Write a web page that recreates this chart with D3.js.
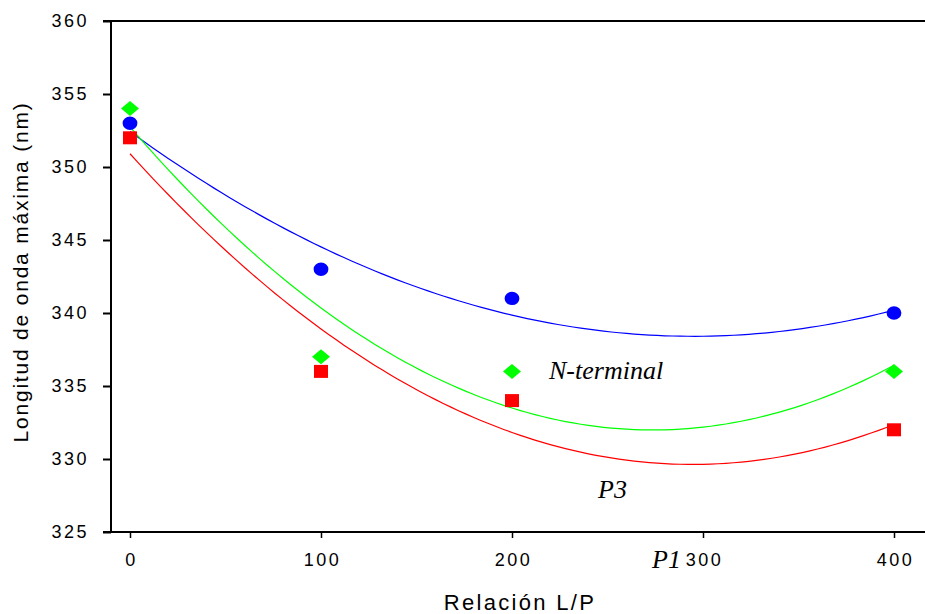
<!DOCTYPE html>
<html>
<head>
<meta charset="utf-8">
<script src="https://cdn.jsdelivr.net/npm/d3@7"></script>
<style>
	body{ margin: 0; background: #fff; }
	svg{ display: block; }
	.tick text{ font-family: Arial, "Liberation Sans", sans-serif; font-size: 18px; letter-spacing: 2.5px; fill: #000; }
	.lbl{ font-family: "Liberation Serif", "Times New Roman", serif; font-style: italic; font-size: 26px; fill: #000; }
</style>
</head>
<body>
<div id="chart"></div>
<script>
// relación L/P
var ratios = [0, 100, 200, 400];
// longitud de onda máxima (nm)
var p1Values = [353, 343, 341, 340];
var nTermValues = [354, 337, 336, 336];
var p3Values = [352, 336, 334, 332];
var xTicks = [0, 100, 200, 300, 400];
var yTicks = [325, 330, 335, 340, 345, 350, 355, 360];

;(function(d3){
	var width = 925,
		height = 614;
	var svg = d3.select("#chart").append("svg")
		.attr("width", width)
		.attr("height", height);

	var x = d3.scaleLinear().domain([0, 400]).range([130, 894]),
		y = d3.scaleLinear().domain([325, 360]).range([532, 21]);

	/*** quadratic least squares (same as the regression curves) ***/
	function polyFit(xs, ys){
		var s = [0, 0, 0, 0, 0], t = [0, 0, 0];
		for(var i = 0; i < xs.length; i++){
			var u = xs[i] / 100;
			for(var k = 0; k < 5; k++) s[k] += Math.pow(u, k);
			for(var k = 0; k < 3; k++) t[k] += Math.pow(u, k) * ys[i];
		}
		var m = [
			[s[0], s[1], s[2], t[0]],
			[s[1], s[2], s[3], t[1]],
			[s[2], s[3], s[4], t[2]]
		];
		//gauss
		for(var c = 0; c < 3; c++){
			for(var r = c + 1; r < 3; r++){
				var f = m[r][c] / m[c][c];
				for(var j = c; j < 4; j++) m[r][j] -= f * m[c][j];
			}
		}
		var cf = [0, 0, 0];
		for(var r = 2; r >= 0; r--){
			var v = m[r][3];
			for(var j = r + 1; j < 3; j++) v -= m[r][j] * cf[j];
			cf[r] = v / m[r][r];
		}
		return function(xv){
			var u = xv / 100;
			return cf[0] + cf[1] * u + cf[2] * u * u;
		};
	}

	var series = [
		{key: "p1", values: p1Values, color: "#0000ff", shape: "circle"},
		{key: "nterm", values: nTermValues, color: "#00ff00", shape: "diamond"},
		{key: "p3", values: p3Values, color: "#ff0000", shape: "square"}
	];

	/*** axes ***/
	var yAxis = svg.append("g")
		.attr("transform", "translate(111,0)")
		.call(d3.axisLeft(y).tickValues(yTicks).tickSize(8).tickPadding(14).tickFormat(d3.format("d")));
	yAxis.select(".domain").remove();
	yAxis.selectAll(".tick line").attr("stroke", "#000").attr("stroke-width", 2);

	var xAxis = svg.append("g")
		.attr("transform", "translate(0,532)")
		.call(d3.axisBottom(x).tickValues(xTicks).tickSize(6).tickPadding(15).tickFormat(d3.format("d")));
	xAxis.select(".domain").remove();
	xAxis.selectAll(".tick line").attr("stroke", "#000").attr("stroke-width", 1.5);
	xAxis.selectAll(".tick text").attr("dx", 1);

	//frame
	var frame = svg.append("g").attr("stroke", "#000").attr("stroke-width", 2);
	frame.append("line").attr("x1", 111).attr("x2", 111).attr("y1", y(360)).attr("y2", y(325));
	frame.append("line").attr("x1", 103).attr("x2", width).attr("y1", y(360)).attr("y2", y(360));
	frame.append("line").attr("x1", 103).attr("x2", width).attr("y1", y(325)).attr("y2", y(325));

	/*** curves ***/
	var line = d3.line()
		.x(function(d){ return x(d[0]); })
		.y(function(d){ return y(d[1]); });
	series.forEach(function(s){
		var fit = polyFit(ratios, s.values);
		var pts = d3.range(0, 401, 4).map(function(v){ return [v, fit(v)]; });
		svg.append("path")
			.attr("d", line(pts))
			.attr("fill", "none")
			.attr("stroke", s.color)
			.attr("stroke-width", 1.2);
	});

	/*** markers ***/
	var shapes = {
		circle: "M-7.4,0A7.4,6.7 0 1,0 7.4,0A7.4,6.7 0 1,0 -7.4,0Z",
		diamond: "M-9,0L0,-7.5L9,0L0,7.5Z",
		square: "M-7,-6.5H7V6.5H-7Z"
	};
	series.forEach(function(s){
		svg.append("g").selectAll("path")
			.data(ratios.map(function(r, i){ return [r, s.values[i]]; }))
			.enter().append("path")
			.attr("d", shapes[s.shape])
			.attr("fill", s.color)
			.attr("transform", function(d){ return "translate(" + x(d[0]) + "," + y(d[1]) + ")"; });
	});

	/*** labels ***/
	svg.append("text").attr("class", "lbl").attr("x", 549).attr("y", 379).text("N-terminal");
	svg.append("text").attr("class", "lbl").attr("x", 598).attr("y", 498).text("P3");
	svg.append("text").attr("class", "lbl").attr("x", 652).attr("y", 568).text("P1");

	svg.append("text")
		.attr("x", 520).attr("y", 610)
		.attr("text-anchor", "middle")
		.style("font-family", "Arial, 'Liberation Sans', sans-serif")
		.style("font-size", "22px")
		.style("letter-spacing", "2.3px")
		.text("Relación L/P");

	svg.append("text")
		.attr("transform", "translate(28,272) rotate(-90)")
		.attr("text-anchor", "middle")
		.style("font-family", "Arial, 'Liberation Sans', sans-serif")
		.style("font-size", "21px")
		.style("letter-spacing", "1.8px")
		.text("Longitud de onda máxima (nm)");
})(d3);
</script>
</body>
</html>
